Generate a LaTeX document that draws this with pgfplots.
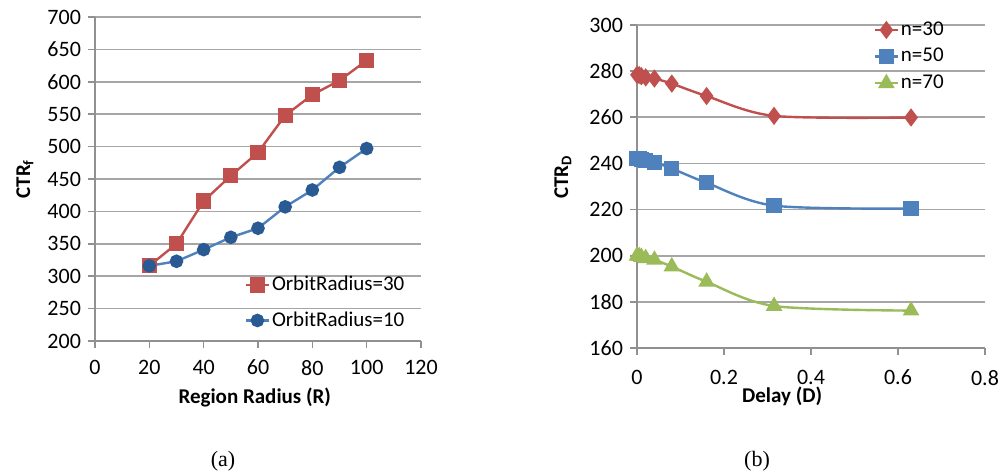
\documentclass[border=0pt]{standalone}
\usepackage{pgfplots}
\pgfplotsset{compat=1.18}
\usepackage{fontspec}
\setmainfont{Carlito}
\newfontfamily\capfont{Liberation Serif}
\definecolor{cred}{HTML}{C0504D}
\definecolor{cblue}{HTML}{4F81BD}
\definecolor{cdblue}{HTML}{2A5A93}
\definecolor{cgreen}{HTML}{9BBB59}
\definecolor{gridc}{HTML}{A6A6A6}
\definecolor{axc}{HTML}{909090}
\pgfplotsset{
  excel/.style={
    scale only axis,
    axis lines*=left,
    axis line style={axc, line width=0.8pt},
    ymajorgrids,
    grid style={gridc, line width=0.8pt},
    tick align=outside,
    major tick length=3.5pt,
    tick style={axc, line width=0.8pt},
    tick label style={font=\fontsize{11}{13}\selectfont},
    label style={font=\fontsize{10.5}{12}\selectfont\bfseries},
    /pgf/number format/assume math mode=true,
    legend style={draw=none, fill=none, font=\fontsize{10.5}{12.5}\selectfont, nodes={inner sep=1pt}},
    legend cell align=left,
    legend image code/.code={\draw[mark repeat=2,mark phase=2] plot coordinates {(0cm,0cm)(0.2cm,0cm)(0.4cm,0cm)};},
    clip=false,
  }
}
\begin{document}
\begin{tikzpicture}
\useasboundingbox (0pt,0pt) rectangle (500pt,237pt);
% left chart
\begin{axis}[excel,
  at={(47.5pt,66.5pt)}, anchor=south west,
  width=163pt, height=162pt,
  xmin=0, xmax=120, ymin=200, ymax=700,
  xtick={0,20,...,120}, ytick={200,250,...,700},
  xticklabel style={yshift=-2.5pt},
  xlabel={Region Radius (R)},
  ylabel={CTR$_{\mathbf{f}}$},
  ylabel style={at={(axis description cs:-0.215,0.5)}, anchor=center},
  xlabel style={at={(axis description cs:0.49,-0.175)}, anchor=center},
  legend style={at={(axis description cs:0.44,0.22)}, anchor=north west, row sep=7pt},
]
\addplot[cred, line width=1.2pt, mark=square*, mark size=3.2pt, mark options={fill=cred, draw=cred}]
  coordinates {(20,316) (30,350) (40,416) (50,455) (60,491) (70,548) (80,580) (90,602) (100,633)};
\addlegendentry{OrbitRadius=30}
\addplot[cblue, line width=1.2pt, mark=*, mark size=2.8pt, mark options={fill=cdblue, draw=cdblue}]
  coordinates {(20,316) (30,323) (40,341) (50,360) (60,374) (70,407) (80,433) (90,468) (100,497)};
\addlegendentry{OrbitRadius=10}
\end{axis}
% right chart
\begin{axis}[excel,
  at={(318.5pt,63pt)}, anchor=south west,
  width=174pt, height=161.5pt,
  xmin=0, xmax=0.8, ymin=160, ymax=300,
  xtick={0,0.2,...,0.8}, ytick={160,180,...,300},
  xticklabel style={/pgf/number format/fixed, /pgf/number format/precision=1, yshift=-4pt},
  xlabel={Delay (D)},
  ylabel={CTR$_{\mathbf{D}}$},
  ylabel style={at={(axis description cs:-0.213,0.53)}, anchor=center},
  xlabel style={at={(axis description cs:0.417,-0.15)}, anchor=center},
  legend style={at={(axis description cs:0.662,1.03)}, anchor=north west, row sep=3pt},
]
\addplot[cred, line width=1.2pt, smooth, mark=diamond*, mark size=3.6pt, mark options={fill=cred, draw=cred}]
  coordinates {(0,278.4) (0.005,278.3) (0.01,277.8) (0.02,277.3) (0.04,276.8) (0.08,274.6) (0.16,269.2) (0.315,260.6) (0.63,259.9)};
\addlegendentry{n=30}
\addplot[cblue, line width=1.2pt, smooth, mark=square*, mark size=3.2pt, mark options={fill=cblue, draw=cblue}]
  coordinates {(0,242.1) (0.005,242.0) (0.01,241.8) (0.02,241.2) (0.04,240.5) (0.08,237.8) (0.16,231.6) (0.315,221.7) (0.63,220.4)};
\addlegendentry{n=50}
\addplot[cgreen, line width=1.2pt, smooth, mark=triangle*, mark size=3.6pt, mark options={fill=cgreen, draw=cgreen}]
  coordinates {(0,200.0) (0.005,199.8) (0.01,199.4) (0.02,198.9) (0.04,198.2) (0.08,195.3) (0.16,188.7) (0.315,178.2) (0.63,176.2)};
\addlegendentry{n=70}
\end{axis}
\node[font=\capfont\fontsize{11}{13}\selectfont] at (111.5pt,6.5pt) {(a)};
\node[font=\capfont\fontsize{11}{13}\selectfont] at (378.5pt,6.5pt) {(b)};
\end{tikzpicture}
\end{document}
